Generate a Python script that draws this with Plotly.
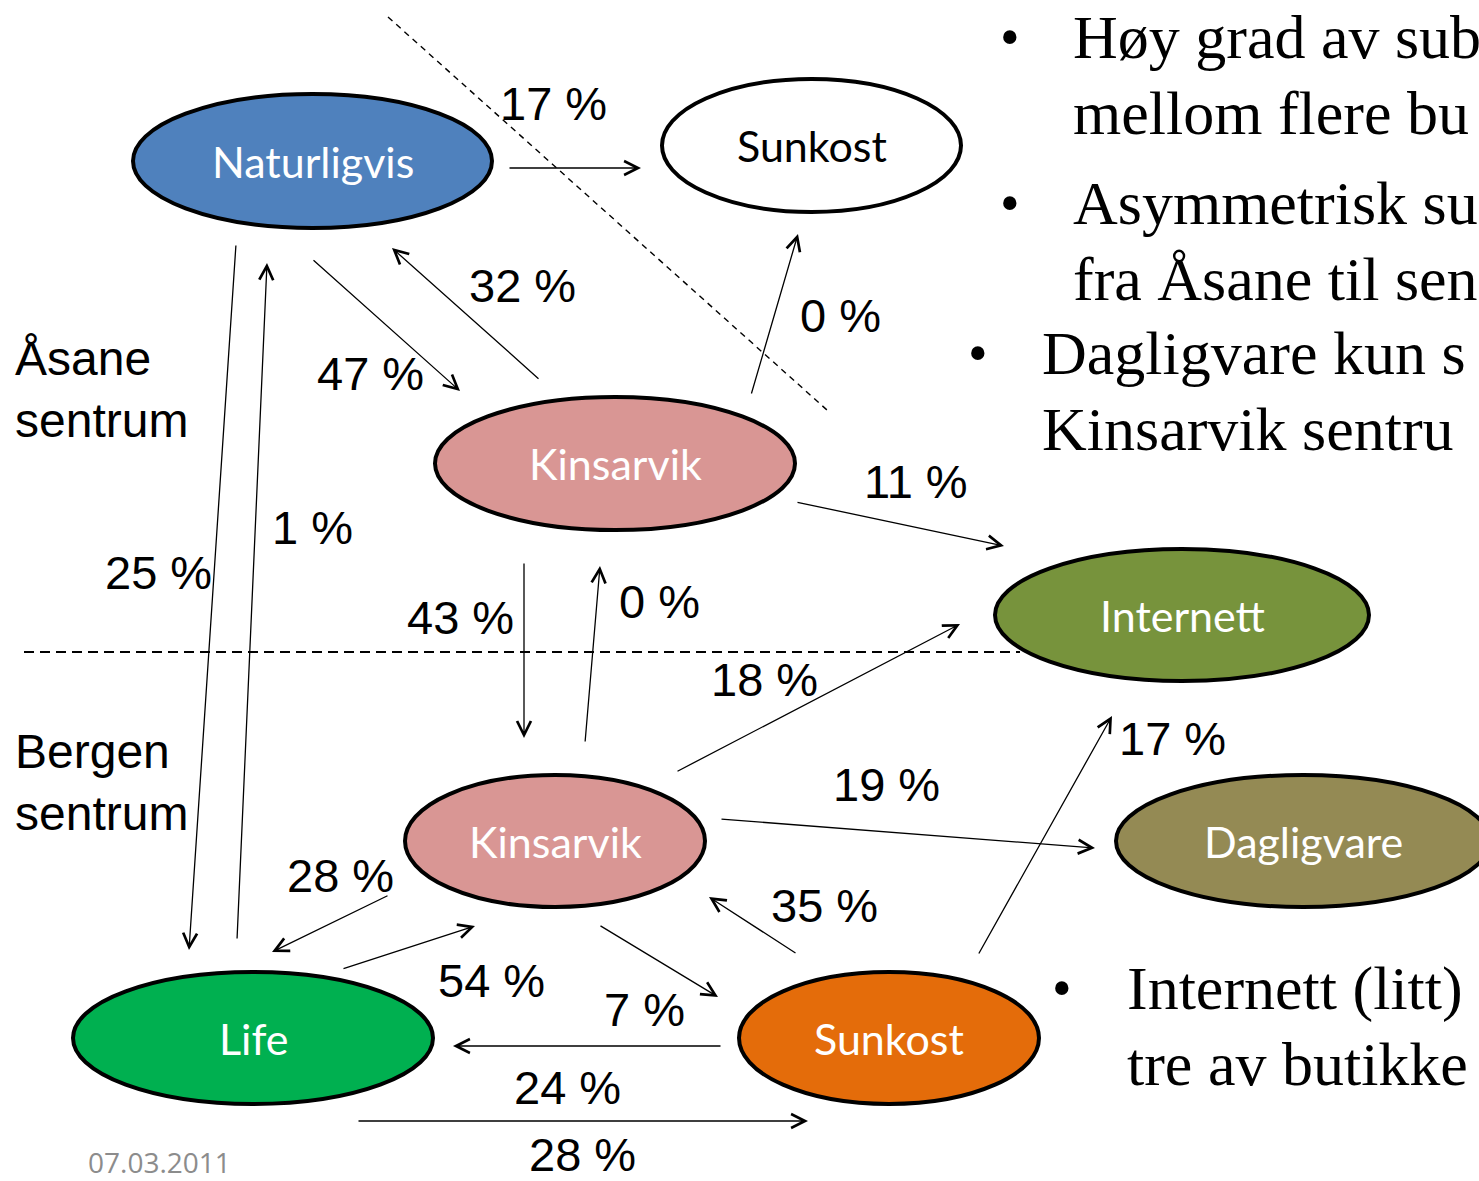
import plotly.graph_objects as go

# ---------------- data ----------------
node_labels = ["Naturligvis", "Sunkost", "Kinsarvik", "Internett",
               "Kinsarvik", "Dagligvare", "Life", "Sunkost"]
node_colors = ["#4F81BD", "#FFFFFF", "#D99694", "#77933C",
               "#D99694", "#948A54", "#00B050", "#E46C0A"]
node_text_colors = ["white", "black", "white", "white",
                    "white", "white", "white", "white"]

flow_labels = ["17 %", "47 %", "32 %", "0 %", "11 %", "25 %", "1 %", "43 %",
               "0 %", "18 %", "19 %", "17 %", "28 %", "54 %", "7 %", "35 %",
               "24 %", "28 %"]

zone_labels = ["Åsane<br>sentrum", "Bergen<br>sentrum"]

# bullet texts as far as they are visible in the slide
bullet_lines_top = [
    ["Høy grad av sub", "mellom flere bu"],
    ["Asymmetrisk su", "fra Åsane til sen"],
    ["Dagligvare kun s", "Kinsarvik sentru"],
]
bullet_lines_bottom = [["Internett (litt)", "tre av butikke"]]
date_label = "07.03.2011"

# ---------------- layout geometry (pixel space) ----------------
node_boxes = [  # x0, x1, y0, y1
    (131, 494, 92, 230),
    (660, 963, 77, 214),
    (433, 797, 395, 532),
    (993, 1371, 547, 683),
    (403, 707, 773, 909),
    (1114, 1492, 773, 909),
    (71, 435, 970, 1106),
    (737, 1041, 970, 1106),
]
arrow_geom = [  # x_start, y_start, x_end(head), y_end(head), label_x, label_y
    (508, 168, 641, 168, 553, 103),
    (312, 259, 460, 391, 370, 373),
    (540, 380, 392, 248, 522, 285),
    (751, 395, 798, 234, 840, 315),
    (796, 502, 1004, 546, 916, 481),
    (236, 244, 189, 950, 158, 572),
    (237, 940, 267, 263, 312, 527),
    (524, 562, 524, 738, 460, 617),
    (585, 743, 600, 566, 659, 601),
    (676, 772, 960, 624, 764, 679),
    (720, 819, 1095, 848, 886, 784),
    (978, 955, 1112, 716, 1172, 738),
    (389, 895, 272, 952, 340, 875),
    (342, 969, 475, 926, 491, 980),
    (599, 925, 718, 997, 644, 1009),
    (797, 954, 709, 897, 824, 905),
    (722, 1046, 453, 1046, 567, 1087),
    (357, 1121, 808, 1121, 582, 1154),
]
zone_pos = [(13, 389), (13, 782)]

W, H = 1479, 1181
fig = go.Figure()
fig.add_trace(go.Scatter(x=[0, W], y=[0, H], mode="markers",
                         marker=dict(opacity=0), hoverinfo="skip", showlegend=False))

shapes = []
# dashed separators
shapes.append(dict(type="line", x0=388, y0=17, x1=827, y1=410, xref="x", yref="y",
                   line=dict(color="black", width=1.4, dash="6px,5px"), layer="below"))
shapes.append(dict(type="line", x0=24, y0=652, x1=1020, y1=652, xref="x", yref="y",
                   line=dict(color="black", width=1.8, dash="10px,6px"), layer="below"))
for (x0, x1, y0, y1), col in zip(node_boxes, node_colors):
    shapes.append(dict(type="circle", x0=x0 + 2, x1=x1 - 2, y0=y0 + 2, y1=y1 - 2,
                       xref="x", yref="y", fillcolor=col,
                       line=dict(color="black", width=4), layer="above"))

annotations = []
for (x0, x1, y0, y1), lab, tc in zip(node_boxes, node_labels, node_text_colors):
    cx = (x0 + x1) / 2
    if lab == "Dagligvare":
        cx = 1303
    annotations.append(dict(x=cx, y=(y0 + y1) / 2, text=lab, showarrow=False,
                            xref="x", yref="y",
                            font=dict(family="Lato, Open Sans, sans-serif", size=43, color=tc)))

for (xs, ys, xe, ye, lx, ly), lab in zip(arrow_geom, flow_labels):
    annotations.append(dict(x=xe, y=ye, ax=xs, ay=ys, xref="x", yref="y",
                            axref="x", ayref="y", text="", showarrow=True,
                            arrowhead=5, arrowsize=2.1, arrowwidth=1.3,
                            arrowcolor="black", standoff=0, startstandoff=0))
    annotations.append(dict(x=lx, y=ly, text=lab, showarrow=False, xref="x", yref="y",
                            font=dict(family="Liberation Sans, Arial, sans-serif",
                                      size=47, color="black")))

for (zx, zy), lab in zip(zone_pos, zone_labels):
    annotations.append(dict(x=zx, y=zy, text=lab, showarrow=False, xref="x", yref="y",
                            xanchor="left", align="left",
                            font=dict(family="Liberation Sans, Arial, sans-serif",
                                      size=48, color="black")))

serif = "Liberation Serif, DejaVu Serif, serif"
top_bullets = [(1010, 1071, 37), (1010, 1071, 203), (978, 1040, 353)]
for (bx, tx, ty), lines in zip(top_bullets, bullet_lines_top):
    annotations.append(dict(x=bx, y=ty, text="•", showarrow=False, xref="x", yref="y",
                            font=dict(family=serif, size=56, color="black")))
    for i, line in enumerate(lines):
        annotations.append(dict(x=tx, y=ty + i * 76, text=line, showarrow=False,
                                xref="x", yref="y", xanchor="left",
                                font=dict(family=serif, size=62, color="black")))
for lines in bullet_lines_bottom:
    annotations.append(dict(x=1062, y=988, text="•", showarrow=False, xref="x", yref="y",
                            font=dict(family=serif, size=56, color="black")))
    for i, line in enumerate(lines):
        annotations.append(dict(x=1125, y=988 + i * 76, text=line, showarrow=False,
                                xref="x", yref="y", xanchor="left",
                                font=dict(family=serif, size=62, color="black")))

annotations.append(dict(x=86, y=1162, text=date_label, showarrow=False, xref="x", yref="y",
                        xanchor="left",
                        font=dict(family="Open Sans, Liberation Sans, sans-serif",
                                  size=28, color="#8C8C8C")))

fig.update_layout(
    width=W, height=H, margin=dict(l=0, r=0, t=0, b=0),
    paper_bgcolor="white", plot_bgcolor="white",
    xaxis=dict(range=[0, W], visible=False, fixedrange=True),
    yaxis=dict(range=[H, 0], visible=False, fixedrange=True),
    shapes=shapes, annotations=annotations, showlegend=False,
)
fig.write_html("out.html", config={"displayModeBar": False},
               post_script="document.body.style.margin='0';document.body.style.overflow='hidden';")
